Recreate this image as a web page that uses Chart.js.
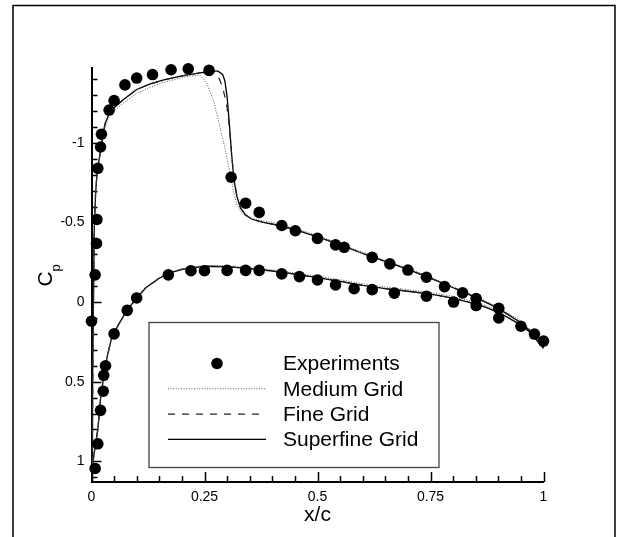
<!DOCTYPE html>
<html>
<head>
<meta charset="utf-8">
<script src="https://cdn.jsdelivr.net/npm/chart.js@4.4.1/dist/chart.umd.min.js"></script>
<style>
  html, body { margin: 0; padding: 0; background: #fff; }
  #wrap { position: relative; width: 627px; height: 537px; }
</style>
</head>
<body>
<div id="wrap"><canvas id="cpChart" width="627" height="537"></canvas></div>
<script>
const xTicks = [0, 0.25, 0.5, 0.75, 1];
const yTicks = [-1, -0.5, 0, 0.5, 1];

// experimental Cp (both surfaces)
const expX = [0.0, 0.008, 0.014, 0.020, 0.026, 0.027, 0.031, 0.050, 0.079, 0.100,
  0.170, 0.220, 0.250, 0.300, 0.341, 0.371, 0.421, 0.460, 0.500, 0.540,
  0.581, 0.621, 0.670, 0.741, 0.801, 0.851, 0.901,
  0.008, 0.011, 0.012, 0.014, 0.020, 0.022, 0.039, 0.050, 0.074, 0.100,
  0.135, 0.176, 0.214, 0.260, 0.309, 0.341, 0.371, 0.421, 0.451, 0.500,
  0.540, 0.559, 0.621, 0.660, 0.700, 0.741, 0.781, 0.821, 0.851, 0.901,
  0.950, 0.980, 1.0];
const expCp = [0.12, 1.045, 0.89, 0.68, 0.56, 0.46, 0.40, 0.20, 0.052, -0.026,
  -0.171, -0.197, -0.197, -0.199, -0.199, -0.199, -0.177, -0.160, -0.139, -0.108,
  -0.084, -0.078, -0.056, -0.037, 0.0, 0.022, 0.10,
  -0.171, -0.368, -0.519, -0.84, -0.974, -1.054, -1.206, -1.266, -1.364, -1.407,
  -1.429, -1.459, -1.465, -1.455, -0.784, -0.621, -0.563, -0.481, -0.448, -0.40,
  -0.359, -0.344, -0.281, -0.24, -0.201, -0.156, -0.097, -0.058, -0.022, 0.039,
  0.152, 0.201, 0.245];

// CFD stations: lower surface TE -> LE, then upper surface LE -> TE
const lowerX = [1.0, 0.97, 0.95, 0.92, 0.9, 0.87, 0.85, 0.8, 0.75, 0.7, 0.65, 0.6, 0.55, 0.5,
  0.45, 0.4, 0.35, 0.3, 0.25, 0.2, 0.17, 0.15, 0.12, 0.1, 0.08, 0.06, 0.045, 0.035,
  0.028, 0.02, 0.014, 0.008, 0.004, 0.0015];
const upperX = [0.0015, 0.003, 0.004, 0.006, 0.009, 0.012, 0.016, 0.02, 0.025, 0.03, 0.04,
  0.05, 0.07, 0.1, 0.13, 0.16, 0.2, 0.22, 0.24, 0.255, 0.27, 0.28, 0.29, 0.295, 0.3,
  0.305, 0.31, 0.315, 0.322, 0.33, 0.34, 0.355, 0.38, 0.41, 0.45, 0.5, 0.55, 0.6, 0.65,
  0.7, 0.75, 0.8, 0.85, 0.9, 0.95, 0.97, 1.0];

const mediumLower = [0.28, 0.18, 0.14, 0.09, 0.055, 0.018, 0.0, -0.035, -0.06, -0.078, -0.095,
  -0.115, -0.14, -0.162, -0.183, -0.202, -0.217, -0.228, -0.23, -0.21, -0.185, -0.155,
  -0.095, -0.03, 0.04, 0.135, 0.215, 0.335, 0.445, 0.605, 0.795, 0.905, 0.985, 1.04];
const mediumUpper = [1.04, 0.5, 0.1, -0.45, -0.68, -0.8, -0.88, -0.95, -1.03, -1.1, -1.17,
  -1.2, -1.25, -1.31, -1.35, -1.38, -1.41, -1.42, -1.425, -1.375, -1.265, -1.15, -1.03,
  -0.97, -0.9, -0.83, -0.76, -0.68, -0.61, -0.57, -0.54, -0.525, -0.51, -0.495, -0.463,
  -0.418, -0.367, -0.312, -0.262, -0.212, -0.157, -0.097, -0.037, 0.032, 0.12, 0.17, 0.28];

const fineLower = [0.29, 0.19, 0.145, 0.095, 0.065, 0.03, 0.013, -0.025, -0.05, -0.068, -0.085,
  -0.105, -0.13, -0.153, -0.175, -0.195, -0.21, -0.222, -0.225, -0.205, -0.18, -0.15,
  -0.09, -0.025, 0.045, 0.14, 0.22, 0.34, 0.45, 0.61, 0.8, 0.91, 0.99, 1.04];
const fineUpper = [1.04, 0.5, 0.1, -0.45, -0.68, -0.8, -0.88, -0.95, -1.04, -1.12, -1.19,
  -1.22, -1.27, -1.335, -1.37, -1.395, -1.42, -1.43, -1.44, -1.445, -1.44, -1.42, -1.35,
  -1.29, -1.22, -1.1, -0.93, -0.77, -0.66, -0.59, -0.55, -0.52, -0.5, -0.484, -0.455,
  -0.41, -0.36, -0.305, -0.255, -0.205, -0.15, -0.09, -0.03, 0.04, 0.13, 0.18, 0.29];

const superfineLower = [0.29, 0.19, 0.145, 0.095, 0.065, 0.03, 0.013, -0.025, -0.05, -0.068, -0.085,
  -0.105, -0.13, -0.153, -0.175, -0.195, -0.21, -0.222, -0.225, -0.205, -0.18, -0.15,
  -0.09, -0.025, 0.045, 0.14, 0.22, 0.34, 0.45, 0.61, 0.8, 0.91, 0.99, 1.04];
const superfineUpper = [1.04, 0.5, 0.1, -0.45, -0.68, -0.8, -0.88, -0.95, -1.04, -1.12, -1.19,
  -1.22, -1.27, -1.335, -1.37, -1.395, -1.42, -1.43, -1.44, -1.445, -1.45, -1.45, -1.43,
  -1.39, -1.29, -1.12, -0.93, -0.77, -0.66, -0.59, -0.55, -0.52, -0.5, -0.484, -0.455,
  -0.41, -0.36, -0.305, -0.255, -0.205, -0.15, -0.09, -0.03, 0.04, 0.13, 0.18, 0.29];

const FONT = "'Liberation Sans', Arial, Helvetica, sans-serif";

function surface(lower, upper){
  return lowerX.map((x,i)=>({x:x, y:lower[i]}))
    .concat(upperX.map((x,i)=>({x:x, y:upper[i]})));
}

/* inward ticks, frame, Cp label, boxed legend */
const cpDecor = {
  id: "cpDecor",
  beforeDatasetsDraw(chart){
    const {ctx, scales:{x, y}, chartArea:a} = chart;
    ctx.save();
    ctx.strokeStyle = "#000";
    ctx.lineWidth = 1.5;
    ctx.beginPath();
    for(let i=0;i<=20;i++){
      const px = Math.round(x.getPixelForValue(i*0.05)) + 0.5;
      const len = i%5===0 ? 10 : 6;
      ctx.moveTo(px, a.bottom); ctx.lineTo(px, a.bottom-len);
    }
    for(let i=-14;i<=11;i++){
      const py = Math.round(y.getPixelForValue(i/10)) + 0.5;
      const len = i%5===0 ? 10 : 6;
      ctx.moveTo(a.left, py); ctx.lineTo(a.left+len, py);
    }
    ctx.stroke();
    ctx.restore();
  },
  afterDraw(chart){
    const ctx = chart.ctx;
    ctx.save();

    // outer frame
    ctx.strokeStyle = "#000";
    ctx.lineWidth = 1.5;
    ctx.beginPath();
    ctx.moveTo(13, 540); ctx.lineTo(13, 5.5); ctx.lineTo(615, 5.5); ctx.lineTo(615, 540);
    ctx.stroke();

    // C_p axis title
    ctx.fillStyle = "#000";
    ctx.translate(46, 279);
    ctx.rotate(-Math.PI/2);
    ctx.font = "21px " + FONT;
    ctx.textAlign = "center";
    ctx.textBaseline = "middle";
    ctx.fillText("C", 0, 0);
    ctx.font = "13px " + FONT;
    ctx.textAlign = "left";
    ctx.fillText("p", 7.5, 10);
    ctx.setTransform(1,0,0,1,0,0);

    // legend
    const box = {l:149, t:322.5, r:439, b:467.5};
    ctx.fillStyle = "#fff";
    ctx.fillRect(box.l, box.t, box.r-box.l, box.b-box.t);
    ctx.strokeStyle = "#444";
    ctx.lineWidth = 1.3;
    ctx.strokeRect(box.l, box.t, box.r-box.l, box.b-box.t);

    ctx.font = "21px " + FONT;
    ctx.textAlign = "left";
    ctx.textBaseline = "middle";
    chart.data.datasets.forEach((ds,i)=>{
      const cy = 363.5 + i*25.3;
      if(ds.showLine){
        ctx.setLineDash(ds.borderDash || []);
        ctx.strokeStyle = ds.borderColor;
        ctx.lineWidth = ds.borderWidth;
        ctx.beginPath();
        ctx.moveTo(168, cy); ctx.lineTo(266, cy);
        ctx.stroke();
        ctx.setLineDash([]);
      } else {
        ctx.fillStyle = ds.backgroundColor;
        ctx.beginPath();
        ctx.arc(217, cy, ds.pointRadius, 0, Math.PI*2);
        ctx.fill();
      }
      ctx.fillStyle = "#000";
      ctx.fillText(ds.label, 283, cy + 1);
    });
    ctx.restore();
  }
};

Chart.defaults.color = "#000";
Chart.defaults.font.family = FONT;

new Chart(document.getElementById("cpChart"), {
  type: "scatter",
  data: {
    datasets: [
      {
        label: "Experiments",
        data: expX.map((x,i)=>({x:x, y:expCp[i]})),
        backgroundColor: "#000",
        borderColor: "#000",
        pointRadius: 5.8,
        pointBorderWidth: 0,
        clip: false
      },
      {
        label: "Medium Grid",
        data: surface(mediumLower, mediumUpper),
        showLine: true,
        borderColor: "#555",
        borderWidth: 1,
        borderDash: [1, 1.6],
        pointRadius: 0,
        clip: false
      },
      {
        label: "Fine Grid",
        data: surface(fineLower, fineUpper),
        showLine: true,
        borderColor: "#222",
        borderWidth: 1.2,
        borderDash: [7, 7],
        pointRadius: 0,
        clip: false
      },
      {
        label: "Superfine Grid",
        data: surface(superfineLower, superfineUpper),
        showLine: true,
        borderColor: "#000",
        borderWidth: 1.3,
        pointRadius: 0,
        clip: false
      }
    ]
  },
  options: {
    responsive: false,
    animation: false,
    events: [],
    layout: { padding: { left: 0, top: 68, right: 83.5, bottom: 0 } },
    plugins: { legend: { display: false }, tooltip: { enabled: false } },
    scales: {
      x: {
        type: "linear",
        min: 0, max: 1,
        grid: { display: false, drawTicks: false },
        border: { display: true, color: "#000", width: 2 },
        ticks: { font: { size: 14 }, padding: 7, maxRotation: 0, callback: v => String(v) },
        afterBuildTicks: s => { s.ticks = xTicks.map(v=>({value:v})); },
        afterFit: s => { s.height = 55; },
        title: { display: true, text: "x/c", font: { size: 21 }, padding: { top: 0, bottom: 9 } }
      },
      y: {
        type: "linear",
        reverse: true,
        min: -1.47, max: 1.13,
        grid: { display: false, drawTicks: false },
        border: { display: true, color: "#000", width: 2 },
        ticks: { font: { size: 14 }, padding: 7, callback: v => String(v) },
        afterBuildTicks: s => { s.ticks = yTicks.map(v=>({value:v})); },
        afterFit: s => { s.width = 91.5; }
      }
    }
  },
  plugins: [cpDecor]
});
</script>
</body>
</html>
